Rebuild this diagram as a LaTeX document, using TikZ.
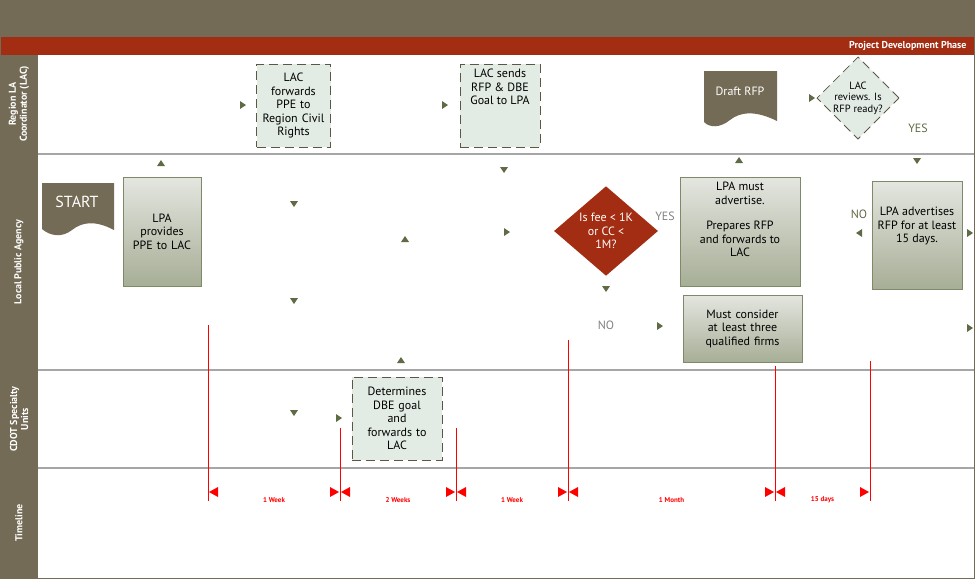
\documentclass[tikz,border=0pt]{standalone}
\usepackage{fontspec}
\setmainfont{PT Sans}
\usetikzlibrary{shapes.geometric}
\definecolor{olive}{HTML}{736B55}
\definecolor{rust}{HTML}{A32D12}
\definecolor{pale}{HTML}{E2ECE4}
\definecolor{grn}{HTML}{5E6B45}
\definecolor{boxtop}{HTML}{E4E6E0}
\definecolor{boxbot}{HTML}{A7AE96}
\begin{document}
\begin{tikzpicture}[x=1pt,y=-1pt,font=\fontsize{12}{13.5}\selectfont,
  dbox/.style={draw=olive!80!black,dash pattern=on 9pt off 5pt,fill=pale,thick,align=center,inner sep=2pt},
  sbox/.style={draw=grn!80,top color=boxtop,bottom color=boxbot,thick,align=center,inner sep=2pt},
  txt/.style={align=center,anchor=north,inner sep=0pt},
  mk/.style={fill=grn,draw=none},
  redl/.style={draw=red,line width=0.8pt},
  lab/.style={rotate=90,text=white,align=center,font=\fontsize{10}{11}\selectfont\bfseries},
  tl/.style={font=\fontsize{7}{8}\selectfont\bfseries,text=red}]
\useasboundingbox (0,0) rectangle (975,579);
% bands
\fill[olive] (0,0) rectangle (975,37);
\fill[rust] (0,37) rectangle (975,55);
\node[anchor=east,text=white,font=\fontsize{10}{11}\selectfont\bfseries] (phase) at (970,46) {Project Development Phase};
\fill[olive] (0,55) rectangle (38,579);
\draw[olive] (0,0) rectangle (974,578);
\foreach \y in {154,370,468}{\draw[gray!70,line width=1.2pt] (38,\y) -- (974,\y);}
\node[lab] (l1) at (19,104) {Region LA\\Coordinator (LAC)};
\node[lab] (l2) at (19,262) {Local Public Agency};
\node[lab] (l3) at (19,419) {CDOT Specialty\\Units};
\node[lab] (l4) at (19,523) {Timeline};
% dashed boxes
\node[dbox,minimum width=73pt,minimum height=83pt,text width=70pt] (fwd) at (293.5,105.5) {LAC\\forwards\\PPE to\\Region Civil\\Rights};
\node[dbox,minimum width=80pt,minimum height=83pt] (send) at (500,105.5) {};
\node[txt] (sendt) at (500,69) {LAC sends\\RFP \& DBE\\Goal to LPA};
\node[dbox,minimum width=90pt,minimum height=83pt,text width=86pt] (det) at (397,418.5) {Determines\\DBE goal\\and\\forwards to\\LAC};
% document shapes
\fill[olive] (704,71) -- (777,71) -- (777,121) .. controls (755,110) and (740,112) .. (730,120) .. controls (720,128) and (710,128) .. (704,122) -- cycle;
\node[text=white] (draft) at (740,91) {Draft RFP};
\fill[olive] (42,183) -- (114,183) -- (114,230) .. controls (95,220) and (82,222) .. (72,230) .. controls (62,238) and (50,236) .. (42,229) -- cycle;
\node[text=white,font=\fontsize{16}{17}\selectfont] (start) at (77,202) {START};
% diamonds
\node[diamond,dbox,minimum width=78pt,minimum height=80pt,inner sep=0pt,font=\fontsize{10.5}{11.5}\selectfont] (rev) at (858,98) {LAC\\reviews. Is\\RFP ready?};
\node[diamond,fill=rust,minimum width=104pt,minimum height=80pt,inner sep=0pt,align=center,text=white] (fee) at (606,231) {Is fee < 1K\\or CC <\\1M?};
% solid boxes
\node[sbox,minimum width=78pt,minimum height=109pt,text width=74pt] (lpa) at (162,231.5) {LPA\\provides\\PPE to LAC};
\node[sbox,minimum width=120pt,minimum height=109pt] (must) at (740,231.5) {};
\node[txt] (mustt) at (740,182) {LPA must\\advertise.\\[12pt]Prepares RFP\\and forwards to\\LAC};
\node[sbox,minimum width=119pt,minimum height=67pt,text width=115pt] (cons) at (742.5,328.5) {Must consider\\at least three\\qualified firms};
\node[sbox,minimum width=90pt,minimum height=108pt] (adv) at (917,235) {};
\node[txt] (advt) at (917,207) {LPA advertises\\RFP for at least\\15 days.};
% labels
\node[text=grn] (yes1) at (918,128) {YES};
\node[text=gray] (yes2) at (665,216) {YES};
\node[text=gray] (no1) at (606,325) {NO};
\node[text=grn] (no2) at (859,214) {NO};
% markers
\foreach \x/\y in {243/105,445/105,812/98,507/232,660/326,339/418,970/328,970/233}{\fill[mk] (\x-3,\y-4) -- (\x+3,\y) -- (\x-3,\y+4) -- cycle;}
\fill[mk] (862,229) -- (856,233) -- (862,237) -- cycle;
\foreach \x/\y in {161/163,405/239,739/160,401/360}{\fill[mk] (\x-4,\y+3) -- (\x,\y-3) -- (\x+4,\y+3) -- cycle;}
\foreach \x/\y in {294/204,294/301,504/170,606/289,917/161,294/413}{\fill[mk] (\x-4,\y-3) -- (\x,\y+3) -- (\x+4,\y-3) -- cycle;}
% timeline
\foreach \x/\a in {208/325,340/428,456/428,568/340,775/366,870/361}{\draw[redl] (\x,\a) -- (\x,501);}
\foreach \a/\b/\t in {208/340/1 Week,340/456/2 Weeks,456/568/1 Week,568/775/1 Month,775/870/15 days}{
  \fill[red] (\a+1,492) -- (\a+10,487) -- (\a+10,497) -- cycle;
  \fill[red] (\b-1,492) -- (\b-10,487) -- (\b-10,497) -- cycle;
  \node[tl] at ({(\a+\b)/2},500) {\t};}
\end{tikzpicture}
\end{document}
